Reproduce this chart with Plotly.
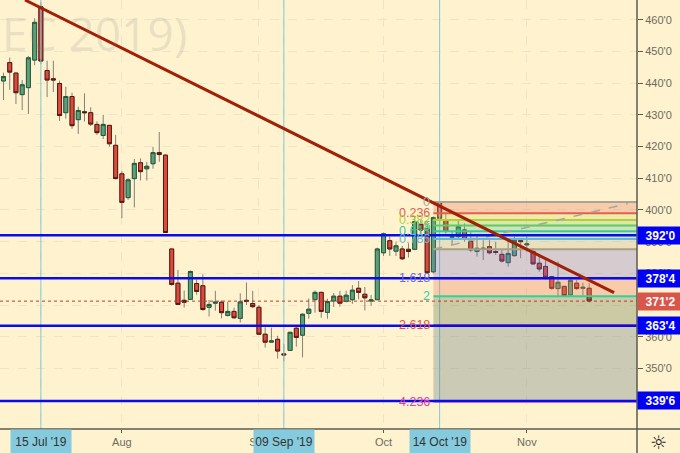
"""Futures daily candles with Fibonacci levels, support lines and a trend line."""

import plotly.graph_objects as go

opens = [440.7, 446.5, 443.2, 436.4, 438.6, 447.3, 464.1, 444.0, 441.4, 439.9,
         430.7, 435.8, 428.5, 431.0, 430.7, 427.0, 423.5, 426.7, 420.4, 411.4,
         403.9, 409.9, 414.9, 413.0, 414.6, 418.1, 417.3, 387.7, 376.9, 371.5,
         371.8, 376.8, 376.1, 369.3, 370.6, 370.9, 366.7, 368.0, 365.8, 371.5,
         370.5, 369.3, 360.8, 358.3, 359.2, 354.6, 355.7, 362.7, 360.5, 367.4,
         371.7, 374.0, 367.7, 371.3, 372.8, 371.2, 371.7, 375.3, 373.4, 371.3,
         371.7, 386.5, 390.3, 387.0, 387.7, 387.6, 387.6, 395.5, 394.0, 380.5,
         402.3, 396.8, 391.4, 391.6, 393.7, 390.1, 386.9, 387.6, 388.4, 386.9,
         386.0, 383.4, 385.6, 390.4, 389.0, 386.9, 383.2, 382.2, 379.0, 375.2,
         375.9, 373.2, 376.9, 375.3, 375.3]
closes = [442.1, 443.5, 437.0, 439.5, 448.0, 459.2, 447.0, 441.0, 441.0, 429.8,
          435.8, 426.6, 431.4, 430.7, 427.1, 424.4, 427.0, 420.9, 409.9, 402.4,
          409.5, 414.7, 412.1, 413.8, 418.1, 417.5, 392.9, 376.5, 370.2, 370.9,
          380.6, 374.3, 368.6, 370.2, 370.9, 367.6, 368.0, 366.0, 371.0, 371.2,
          369.5, 360.8, 358.3, 358.7, 355.5, 354.3, 361.4, 359.8, 367.1, 368.7,
          374.0, 368.0, 371.1, 372.8, 370.6, 373.1, 374.7, 374.0, 372.3, 371.6,
          387.7, 392.5, 387.7, 388.7, 384.6, 386.9, 396.3, 393.7, 380.2, 397.6,
          397.4, 393.2, 391.6, 394.7, 390.7, 387.4, 387.9, 387.9, 386.5, 386.6,
          383.9, 386.3, 390.5, 390.0, 389.3, 383.0, 381.4, 378.8, 375.3, 377.2,
          373.0, 377.8, 375.2, 375.6, 371.3]
highs = [443.3, 448.1, 443.2, 441.0, 448.6, 460.5, 465.5, 447.1, 447.1, 440.8,
         438.9, 437.0, 432.6, 436.8, 432.4, 428.0, 430.0, 426.7, 423.7, 412.3,
         410.0, 416.1, 416.3, 415.2, 419.9, 424.6, 417.6, 387.7, 381.1, 374.6,
         380.9, 378.1, 379.7, 371.6, 374.5, 371.5, 371.1, 369.2, 373.7, 377.1,
         374.5, 370.0, 363.0, 362.9, 360.3, 357.7, 361.6, 363.4, 367.4, 372.1,
         374.6, 374.2, 372.0, 373.8, 374.5, 374.5, 376.3, 377.6, 375.7, 373.2,
         388.1, 392.9, 391.6, 390.0, 388.7, 389.5, 397.9, 397.0, 396.5, 398.0,
         402.6, 398.9, 393.2, 397.0, 395.8, 393.0, 392.0, 390.5, 390.5, 390.0,
         387.4, 390.5, 391.6, 391.0, 391.6, 387.9, 385.8, 384.2, 379.2, 383.7,
         376.0, 378.1, 377.9, 377.1, 376.9]
lows = [434.7, 437.9, 433.4, 431.5, 430.3, 445.7, 446.0, 435.6, 437.2, 428.1,
        428.8, 425.6, 424.0, 427.9, 426.5, 423.7, 422.4, 420.0, 409.7, 397.4,
        403.2, 400.8, 409.3, 409.3, 413.0, 415.2, 392.8, 376.1, 370.0, 369.2,
        371.6, 373.2, 368.2, 366.4, 368.2, 365.8, 366.4, 365.7, 364.5, 370.0,
        369.0, 360.6, 356.6, 358.3, 353.1, 352.2, 355.6, 356.9, 353.5, 365.7,
        367.6, 366.0, 365.7, 369.4, 369.5, 370.8, 370.4, 371.8, 368.3, 369.7,
        371.6, 385.5, 385.5, 385.5, 384.2, 385.0, 387.3, 392.0, 380.0, 380.0,
        396.0, 392.6, 389.0, 391.0, 390.0, 386.8, 385.3, 384.2, 386.0, 385.8,
        383.4, 382.1, 385.3, 384.8, 386.8, 382.6, 380.5, 377.9, 374.8, 372.9,
        372.9, 372.9, 374.8, 372.9, 370.8]
bars = list(range(len(opens)))

price_ticks = [340, 350, 360, 370, 380, 390, 400, 410, 420, 430, 440, 450, 460]
price_labels = ["340'0", "350'0", "360'0", "370'0", "380'0", "390'0", "400'0",
                "410'0", "420'0", "430'0", "440'0", "450'0", "460'0"]
month_ticks = [6, 19, 41, 45, 61, 70, 84]
month_labels = ["", "Aug", "Sep", "", "Oct", "", "Nov"]

date_bars = [6, 45, 70]
date_labels = ["15 Jul '19", "09 Sep '19", "14 Oct '19"]

level_prices = [392.0, 378.5, 363.5, 339.75]
level_labels = ["392'0", "378'4", "363'4", "339'6"]
last_price = 371.25
last_label = "371'2"

fib_start = 69
fib_high = 402.5
fib_unit = 14.86
fib_ratios = [0, 0.236, 0.382, 0.5, 0.618, 0.786, 1, 1.618, 2, 2.618, 4.236]
fib_labels = ["0", "0.236", "0.382", "0.5", "0.618", "0.786", "", "1.618", "2", "2.618", "4.236"]
fib_colors = ["#a8a496", "#e2604f", "#b4cf3a", "#5fc86a", "#3cc6a2", "#62b6d8",
              "#a8a080", "#6a6ae0", "#2fd39a", "#e2504f", "#e040a8"]
fib_fills = ["rgba(235,130,100,0.35)", "rgba(200,220,90,0.3)", "rgba(130,210,90,0.3)",
             "rgba(90,200,120,0.3)", "rgba(60,190,170,0.25)", "rgba(150,150,130,0.2)",
             "rgba(118,113,210,0.3)", "rgba(235,130,100,0.35)", "rgba(82,110,70,0.3)",
             "rgba(82,110,120,0.3)"]

trend_bars = [3.45, 98]
trend_prices = [466.25, 373.9]
fib_trend_bars = [69, 100.2]
fib_trend_prices = [387.6, 402.0]

BG = "#fff3cf"
AXIS = "#5a5a50"
TEXT = "#6b6b60"
FONT = "Liberation Sans"

fig = go.Figure()

# wicks first in grey, bodies on top with a darker outline
fig.add_trace(go.Candlestick(
    x=bars, open=opens, high=highs, low=lows, close=closes,
    increasing=dict(line=dict(color="#808078", width=1), fillcolor="#808078"),
    decreasing=dict(line=dict(color="#808078", width=1), fillcolor="#808078"),
    whiskerwidth=0, showlegend=False,
))
fig.add_trace(go.Candlestick(
    x=bars, open=opens, close=closes,
    high=[max(o, c) for o, c in zip(opens, closes)],
    low=[min(o, c) for o, c in zip(opens, closes)],
    increasing=dict(line=dict(color="#1e5c3a", width=1), fillcolor="#5f9e7c"),
    decreasing=dict(line=dict(color="#5a1510", width=1), fillcolor="#dc4a3c"),
    whiskerwidth=0, showlegend=False,
))

fib_prices = [fib_high - r * fib_unit for r in fib_ratios]

for bar in date_bars:
    fig.add_shape(type="line", xref="x", yref="paper", x0=bar, x1=bar, y0=0, y1=1,
                  line=dict(color="#80c8dc", width=1), layer="above")

for top, bottom, fill in zip(fib_prices[:-1], fib_prices[1:], fib_fills):
    fig.add_shape(type="rect", x0=fib_start, x1=102, y0=bottom, y1=top,
                  fillcolor=fill, line=dict(width=0), layer="above")
for price, color in zip(fib_prices, fib_colors):
    fig.add_shape(type="line", x0=fib_start, x1=102, y0=price, y1=price,
                  line=dict(color=color, width=2), layer="above")
for price, label, color in zip(fib_prices, fib_labels, fib_colors):
    if label:
        fig.add_annotation(x=fib_start, y=price, text=label, showarrow=False,
                           xanchor="right", xshift=-1,
                           font=dict(family=FONT, size=12.5, color=color))

fig.add_shape(type="line", x0=fib_trend_bars[0], x1=fib_trend_bars[1],
              y0=fib_trend_prices[0], y1=fib_trend_prices[1],
              line=dict(color="#a8a496", width=1.5, dash="dash"), layer="above")

for price in level_prices:
    fig.add_shape(type="line", xref="paper", x0=0, x1=1, y0=price, y1=price,
                  line=dict(color="#0a0af0", width=2.5), layer="above")

fig.add_shape(type="line", xref="paper", x0=0, x1=1, y0=last_price, y1=last_price,
              line=dict(color="#c0392b", width=1, dash="dot"), layer="above")

fig.add_shape(type="line", x0=trend_bars[0], x1=trend_bars[1],
              y0=trend_prices[0], y1=trend_prices[1],
              line=dict(color="#a02008", width=3), layer="above")

# axis frame runs on through the corner box
fig.add_shape(type="line", xref="paper", yref="paper", x0=1, x1=1, y0=-0.06, y1=1,
              line=dict(color=AXIS, width=1.5), layer="above")
fig.add_shape(type="line", xref="paper", yref="paper", x0=0, x1=1.07, y0=0, y1=0,
              line=dict(color=AXIS, width=1.5), layer="above")

fig.add_annotation(xref="paper", yref="paper", x=0, y=0.923, text="EC 2019)", showarrow=False,
                   xanchor="left", yanchor="middle",
                   font=dict(family="Open Sans", size=46, color="rgba(120,120,120,0.17)"))

for price, label in zip(level_prices, level_labels):
    fig.add_annotation(xref="paper", x=1, y=price, text=f"<b>{label}</b>", showarrow=False,
                       xanchor="left", width=43, height=15, bgcolor="#0000f5",
                       font=dict(family=FONT, size=12, color="white"))
fig.add_annotation(xref="paper", x=1, y=last_price, text=f"<b>{last_label}</b>", showarrow=False,
                   xanchor="left", width=43, height=15, bgcolor="#d9574a",
                   font=dict(family=FONT, size=12, color="white"))

for bar, label in zip(date_bars, date_labels):
    fig.add_annotation(x=bar, yref="paper", y=0, yanchor="top", text=label, showarrow=False,
                       width=58, height=21, bgcolor="#85cbdd",
                       font=dict(family=FONT, size=12, color="#333333"))

fig.add_annotation(xref="paper", yref="paper", x=1.033, y=-0.03, text="\u263c", showarrow=False,
                   xanchor="center", yanchor="middle",
                   font=dict(family="DejaVu Sans", size=19, color="#222222"))

fig.update_layout(
    width=680, height=453, autosize=False,
    margin=dict(l=0, r=43, t=0, b=24),
    paper_bgcolor=BG, plot_bgcolor=BG,
    showlegend=False,
    boxgap=0.2, boxgroupgap=0.2,
    font=dict(family=FONT, size=11, color=TEXT),
    xaxis=dict(range=[-0.56, 101.68], rangeslider=dict(visible=False),
               tickmode="array", tickvals=month_ticks, ticktext=month_labels,
               ticks="outside", ticklen=3, tickcolor=AXIS,
               showgrid=True, gridcolor="#efe5c6", griddash="dash", gridwidth=1, zeroline=False),
    yaxis=dict(range=[330.9, 466.25], side="right",
               tickmode="array", tickvals=price_ticks, ticktext=price_labels,
               ticks="outside", ticklen=5, tickcolor=AXIS,
               showgrid=True, gridcolor="#efe5c6", griddash="dash", gridwidth=1, zeroline=False),
)

fig.write_html("out.html", config=dict(displayModeBar=False),
               post_script="document.body.style.margin='0';")
